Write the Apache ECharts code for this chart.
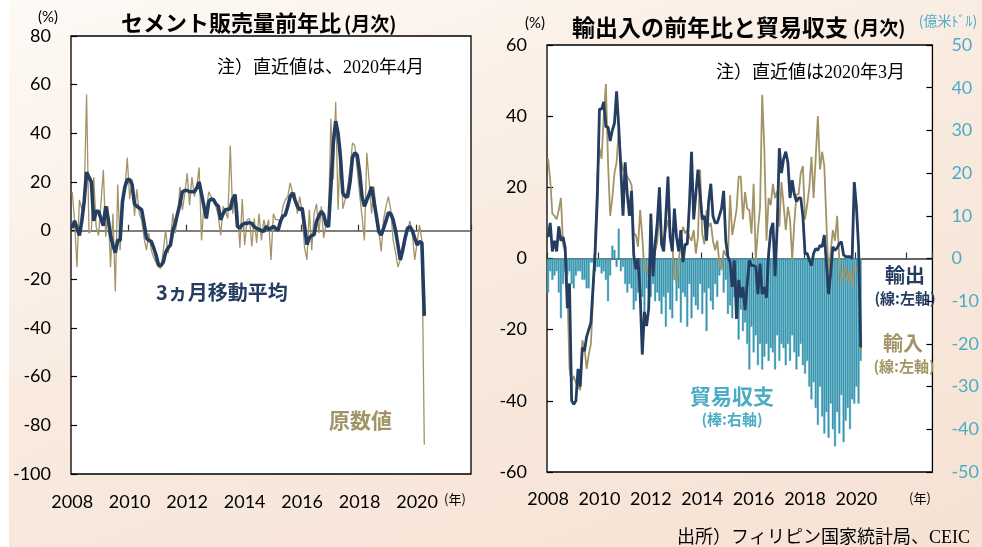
<!DOCTYPE html>
<html>
<head>
<meta charset="utf-8">
<script src="https://cdn.jsdelivr.net/npm/echarts@6/dist/echarts.min.js"></script>
<style>
  html, body { margin: 0; padding: 0; background: #fff; }
  #chart {
    width: 982px; height: 547px;
    background: linear-gradient(to right, #fff 0, #fff 9px, transparent 9px),
                linear-gradient(160deg, #fefaf6 0%, #f9ebe0 45%, #f6e2d3 100%);
  }
</style>
</head>
<body>
<div id="chart"></div>
<script>
// monthly categories
var monthsLeft = [];   // 2008-01 .. 2021-11
var monthsRight = [];  // 2008-01 .. 2022-12
for (var y = 2008; y <= 2022; y++) {
  for (var m = 1; m <= 12; m++) {
    var c = y + "-" + (m < 10 ? "0" + m : m);
    if (monthsLeft.length < 167) monthsLeft.push(c);
    monthsRight.push(c);
  }
}
var yearLabels = ["2008", "2010", "2012", "2014", "2016", "2018", "2020"];

// セメント販売量 前年比 (%) 2008-01 .. 2020-04
var cementRaw = [
  16, 4, -15, 12.6, 9, 13, 56, -1, 0, 22, 1.6, -2,
  11, 25, -2.5, 10, -15, 7, -25, 19, -8, 11, 17, 30,
  13, 21, 6, 17, 7, 4.4, -3, -8, -1, -8, -11, -13,
  -15, -15.5, -8.6, 0.3, -9.3, -4.5, 7, -1, 5.8, 18, 8.5, 15,
  23.6, 10.5, 22, 14, 18, 26, -4, 11, 8, 16, 14, 12,
  10, 6, -2, 10, 8, 5, 35, 7, 15, 10, -7, 13,
  -6, 4.5, 5, -6.5, 5, -5, 7, -4, 4.5, 0.4, 4.5, -12,
  7, 4.5, 4.5, 4, 10, 12.7, 14, 19.6, 15.5, 15.5, 7, 14,
  7, -7, -12, 8.6, -8, 7, 11, -1, 10, -3, 3, 4.5,
  46, 21, 53, 8.6, 36, 9, 13, 18, 25, 36, 35, 25,
  15, 6, -4, 32, 20, 7, 18, 6, 0, -8.5, 4.5, 10,
  14, 8.6, -4, -9, -15, -12, -6, -4, 0, 4, -1, -12,
  -5, 2.3, -4, -88
];
var cementMA3 = [
  1, 4, 1, -2, 4, 12, 24, 22, 20, 4, 8, 8,
  5, 2, 10, 5, -2, -6, -9, -4, -4, 12, 18, 21,
  21, 19, 11, 10, 9.3, 8.6, 3, -3, -4, -4.4, -7, -10,
  -14, -14.4, -13, -9, -7, -6, 0, 3, 7, 11, 16, 16.5,
  16.5, 16, 16, 16, 17.5, 20, 15, 10, 5, 12, 13, 12.7,
  11, 10, 4.5, 7, 8.6, 8.8, 9, 13, 14.8, 1.8, 1, 2.5,
  3, 3, 3.3, 3, 1.5, 1, 0.5, 0, -0.3, 1.8, 0.5, 1,
  1.8, 0.8, 0.3, 4, 6, 6.5, 10, 14, 15.5, 12.7, 10, 8.6,
  9.3, 2, -5.7, -3, -2, -1.6, 3.8, 6, 8, 6.6, 2.5, 1.6,
  18, 36, 45, 40, 30, 15.5, 14, 14, 20, 30, 32, 31,
  24, 14, 10, 12.6, 15, 18, 12, 6, -0.4, -1.8, 1, 4,
  7.4, 7, 4.4, 0, -6, -12, -8, -3, 1, 1.6, 0, -3,
  -5.9, -4.5, -5, -35
];

// 輸出・輸入 前年比 (%) と 貿易収支 (億米ドル) 2008-01 .. 2020-03
var exportsYoY = [
  6, 10, 2, 5, 2, 9, 5, 6, 3, -14, -7, -40,
  -41, -40, -31, -36, -25, -26, -22, -20, -18, -8, 2, 17,
  42, 42, 44, 37, 37, 33, 36, 38, 47, 37, 25, 12,
  27, 18, 12, 19, 1, -3, 0, -10, -27, -15, -19, -14,
  12.6, -5, 4, 10, 20, 4, 2, 12, 23, 6, 2, 14,
  6, 2, 8, -1, 4, 4, 15, 30, 11, 18, 25, 18,
  11, 12, 5, 16, 21, 12, 10, 10, 12, 14, 19, 5,
  0.5, -1, -8, -0.5, -17, -6, -11, -8, -14.5, -7, -0.5, -2,
  -2, -2.3, -10, -1.4, -10, -8, -11, 1.4, 8, 10, -5, 9,
  31, 24, 28, 30, 27, 17, 22, 18, 16, 17, 17, 12,
  1.4, 1.4, -0.5, -2, 1.4, 2.8, 2.3, 3.7, 3.3, 6.6, -1.4, -10,
  -4, 3.3, 2.3, 3, 4.2, 4.7, 1, 0.5, 0.5, 0.5, 0, 21.5,
  14.5, 3.3, -25
];
var importsYoY = [
  28, 22, 12.6, 12, 11, 13.6, 17, 4, 1.5, -8, -31, -34.6,
  -33, -35, -36, -37, -23, -25, -31, -27, -24, -11, 6, 23,
  31, 28, 40, 49, 27, 12, 17, 24, 27, 36, 28, 25,
  24, 23, 22, 20.6, 7, 6.6, 3.3, 13.6, 6, -3.3, -2.3, -5,
  -3, -2.3, 2, 4.7, 13, 6, 5, 8, 10.8, 7, 4.2, -5,
  -6.6, -1.4, 5.6, 8.9, 7, 8, 6, 5, 8, 1.4, 6, 25,
  7, 4, 13.6, 9, 10, 5, 2.3, 5, -1.4, -3.3, 2.3, 1,
  0.5, 17.8, 6.6, 10, 13.6, 23, 23, 11, 18.7, 14, 13.6, 7,
  21, -0.5, 8, 14.5, 46, 31, 5, 17, 15, 21, 17, 19,
  9, 21.5, 15, 8, 14.5, 11, -0.5, 10, 18, 18, 24, 26,
  11, 15, 20, 28.6, 17, 28.6, 40, 25, 30, 26, 10, -5,
  2, 8, 5, 12, -0.5, -6.6, -5, -2.3, -6, -3.7, -8, -2.3,
  -3, -3.3, -26
];
var tradeBalance = [
  -8, -3, -5, -4, -3, -8, -14, -6, -3, -4, -3, -6,
  -7, -4, -3, -3, -5, -5, -7, -7, -1, -1, -3, -2,
  -2, -3.5, -3, -5, -10, -4, 3, 2, -2, 7, -3, -2,
  -6, -8, -6, -7, -12, -10, -8, -10.5, -9, -13, -7, -8,
  -9, -6, -10, -8, -10, -13, -9, -16, -8, -12, -14, -5,
  -10, -7, -15, -8, -9, -16, -6, -14, -9, -11, -12, -6,
  -13, -8, -17, -7, -10, -12, -6, -9, -4, -2, -8, -5,
  -13, -11, -14, -9, -14, -19, -12, -17, -15, -20, -26, -16,
  -22, -18, -25, -20, -26, -23, -20, -24, -21, -22, -26, -18,
  -24, -20, -21, -25, -20, -24, -18, -22, -26, -23, -20, -25,
  -27, -24, -30, -33, -29, -35, -39, -30, -37, -41, -36, -42,
  -34, -40, -44, -36, -41, -32, -43, -38, -35, -40, -33, -34,
  -30, -34, -24
];

var navy = "#243d61";
var olive = "#a29466";
var teal = "#3791aa";
var tealText = "#4bacc6";
var numFont = 'Lato, "Noto Sans CJK JP", sans-serif';
var jpFont = '"Noto Sans CJK JP", sans-serif';
var mixFont = '"Liberation Serif", "Noto Sans CJK JP", serif';

function yearLabel(value) {
  var yr = value.slice(0, 4);
  return value.slice(5) === "01" && yearLabels.indexOf(yr) >= 0 ? yr : "";
}
function yearShow(idx, value) {
  return yearLabel(value) !== "";
}

function txt(x, y, text, size, color, opts) {
  opts = opts || {};
  return {
    type: "text", x: x, y: y, silent: true,
    style: {
      text: text,
      font: (opts.weight || "normal") + " " + size + "px " + (opts.family || jpFont),
      fill: color,
      align: opts.align || "left",
      verticalAlign: "middle"
    }
  };
}

var chart = echarts.init(document.getElementById("chart"), null, { renderer: "canvas" });

chart.setOption({
  backgroundColor: "transparent",
  animation: false,
  grid: [
    { left: 71, top: 36, width: 400, height: 438, show: true, backgroundColor: "#fff",
      borderColor: "#000", borderWidth: 1.3 },
    { left: 547, top: 45, width: 392, height: 427, show: true, backgroundColor: "#fff",
      borderColor: "#000", borderWidth: 1.3 }
  ],
  xAxis: [
    { // zero line with year ticks (left)
      type: "category", gridIndex: 0, data: monthsLeft, boundaryGap: true,
      axisLine: { show: true, onZero: true, lineStyle: { color: "#555", width: 1.5 } },
      axisTick: { show: true, inside: true, interval: 23, length: 6, lineStyle: { color: "#333", width: 1.2 } },
      axisLabel: { show: false }, splitLine: { show: false }
    },
    { // year labels (left)
      type: "category", gridIndex: 0, data: monthsLeft, boundaryGap: true, position: "bottom",
      axisLine: { show: false, onZero: false }, axisTick: { show: false },
      axisLabel: { interval: yearShow, formatter: yearLabel, margin: 19, color: "#000",
        fontSize: 18, fontFamily: numFont },
      splitLine: { show: false }
    },
    { // zero line with year ticks (right)
      type: "category", gridIndex: 1, data: monthsRight, boundaryGap: true,
      axisLine: { show: true, onZero: true, onZeroAxisIndex: 2, lineStyle: { color: "#333", width: 1.5 } },
      axisTick: { show: true, inside: true, interval: 23, length: 6, lineStyle: { color: "#333", width: 1.2 } },
      axisLabel: { show: false }, splitLine: { show: false }
    },
    { // year labels (right)
      type: "category", gridIndex: 1, data: monthsRight, boundaryGap: true, position: "bottom",
      axisLine: { show: false, onZero: false }, axisTick: { show: false },
      axisLabel: { interval: yearShow, formatter: yearLabel, margin: 18, color: "#000",
        fontSize: 18, fontFamily: numFont },
      splitLine: { show: false }
    }
  ],
  yAxis: [
    { type: "value", gridIndex: 0, min: -100, max: 80, interval: 20,
      axisLine: { show: false },
      axisTick: { show: true, inside: true, length: 6, lineStyle: { color: "#000", width: 1.2 } },
      axisLabel: { margin: 20, color: "#000", fontSize: 18, fontFamily: numFont },
      splitLine: { show: false } },
    { type: "value", gridIndex: 1, min: -60, max: 60, interval: 20, position: "left",
      axisLine: { show: false },
      axisTick: { show: true, inside: true, length: 6, lineStyle: { color: "#000", width: 1.2 } },
      axisLabel: { margin: 20, color: "#000", fontSize: 18, fontFamily: numFont },
      splitLine: { show: false } },
    { type: "value", gridIndex: 1, min: -50, max: 50, interval: 10, position: "right",
      axisLine: { show: false },
      axisTick: { show: true, inside: true, length: 6, lineStyle: { color: "#000", width: 1.2 } },
      axisLabel: { margin: 19, color: tealText, fontSize: 18, fontFamily: numFont },
      splitLine: { show: false } }
  ],
  series: [
    { name: "原数値", type: "line", xAxisIndex: 0, yAxisIndex: 0, data: cementRaw,
      showSymbol: false, symbol: "none", lineStyle: { color: olive, width: 1.3 }, z: 3 },
    { name: "3ヵ月移動平均", type: "line", xAxisIndex: 0, yAxisIndex: 0, data: cementMA3,
      showSymbol: false, symbol: "none", lineStyle: { color: navy, width: 3.6 }, z: 4 },
    { name: "貿易収支", type: "bar", xAxisIndex: 2, yAxisIndex: 2, data: tradeBalance,
      barCategoryGap: "0%", itemStyle: { color: teal, borderColor: "#5cb4ca", borderWidth: 0.4 }, z: 2 },
    { name: "輸入", type: "line", xAxisIndex: 2, yAxisIndex: 1, data: importsYoY,
      showSymbol: false, symbol: "none", lineStyle: { color: olive, width: 1.8 }, z: 3 },
    { name: "輸出", type: "line", xAxisIndex: 2, yAxisIndex: 1, data: exportsYoY,
      showSymbol: false, symbol: "none", lineStyle: { color: navy, width: 2.8 }, z: 4 }
  ],
  graphic: [
    // left panel
    txt(121, 23, "セメント販売量前年比", 22, "#000", { weight: "bold" }),
    txt(344, 24, "(月次)", 19, "#000", { weight: "bold" }),
    txt(48, 17, "(%)", 15, "#000", { align: "center", family: numFont }),
    txt(217, 68, "注）直近値は、2020年4月", 18, "#000", { family: mixFont }),
    txt(156, 292, "3ヵ月移動平均", 20, navy, { weight: "bold" }),
    txt(329, 420, "原数値", 21, olive, { weight: "bold" }),
    txt(455, 499, "(年)", 13, "#000", { align: "center" }),
    // right panel
    txt(572, 27, "輸出入の前年比と貿易収支", 23, "#000", { weight: "bold" }),
    txt(853, 28, "(月次)", 19, "#000", { weight: "bold" }),
    txt(535, 23, "(%)", 15, "#000", { align: "center", family: numFont }),
    txt(948, 21, "(億米ﾄﾞﾙ)", 14, tealText, { align: "center" }),
    txt(716, 73, "注）直近値は2020年3月", 18, "#000", { family: mixFont }),
    txt(905, 275, "輸出", 20, navy, { align: "center", weight: "bold" }),
    txt(905, 298, "(線:左軸)", 15, navy, { align: "center", weight: "bold" }),
    txt(903, 343, "輸入", 20, olive, { align: "center", weight: "bold" }),
    txt(904, 366, "(線:左軸)", 15, olive, { align: "center", weight: "bold" }),
    txt(732, 396, "貿易収支", 21, tealText, { align: "center", weight: "bold" }),
    txt(732, 419, "(棒:右軸)", 15, tealText, { align: "center", weight: "bold" }),
    txt(920, 498, "(年)", 13, "#000", { align: "center" }),
    txt(677, 538, "出所）フィリピン国家統計局、CEIC", 18, "#000", { family: mixFont })
  ]
});
</script>
</body>
</html>
